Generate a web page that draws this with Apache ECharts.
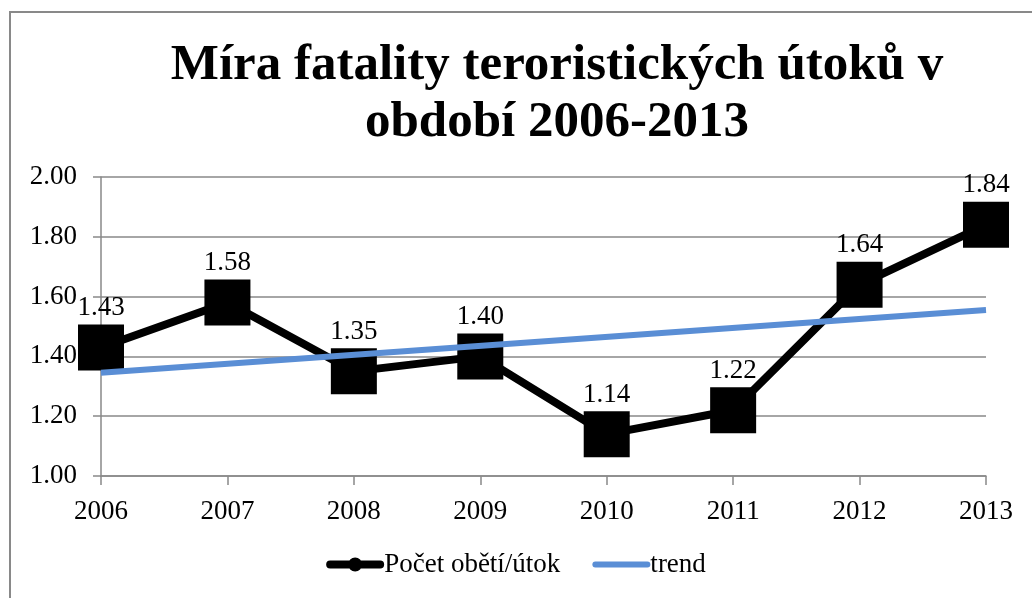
<!DOCTYPE html>
<html>
<head>
<meta charset="utf-8">
<script src="https://cdn.jsdelivr.net/npm/echarts@6/dist/echarts.min.js"></script>
<style>
  html, body { margin: 0; padding: 0; background: #fff; }
  #chart { width: 1032px; height: 598px; }
</style>
</head>
<body>
<div id="chart"></div>
<script>
// data
const years = ['2006', '2007', '2008', '2009', '2010', '2011', '2012', '2013'];
const fatality = [1.43, 1.58, 1.35, 1.40, 1.14, 1.22, 1.64, 1.84];
const trendLine = [['2006', 1.345], ['2013', 1.555]];
const yTicks = [1.0, 1.2, 1.4, 1.6, 1.8, 2.0];

const serif = '"Liberation Serif", serif';
const gray = '#898989';

const chart = echarts.init(document.getElementById('chart'));

chart.setOption({
  animation: false,
  title: {
    text: 'Míra fatality teroristických útoků v\nobdobí 2006-2013',
    left: 552,
    top: 32,
    textAlign: 'center',
    textStyle: {
      fontFamily: serif,
      fontWeight: 'bold',
      fontSize: 51,
      lineHeight: 57,
      color: '#000',
    },
  },
  graphic: [
    {
      type: 'rect',
      shape: { x: 10, y: 12, width: 1040, height: 600 },
      style: { fill: 'none', stroke: gray, lineWidth: 2 },
      silent: true,
    },
  ],
  grid: {
    left: 101,
    right: 46,
    top: 177,
    bottom: 122,
  },
  legend: {
    bottom: 15,
    left: 'center',
    itemWidth: 58,
    itemHeight: 16,
    itemGap: 32,
    textStyle: { fontFamily: serif, fontSize: 27, color: '#000', padding: [0, 0, 0, -5] },
    data: [
      {
        name: 'Počet obětí/útok',
        icon: 'path://M4 4 H54 A4 4 0 0 1 54 12 H4 A4 4 0 0 1 4 4 Z M22 8 A7 7 0 1 1 36 8 A7 7 0 1 1 22 8 Z',
      },
      {
        name: 'trend',
        icon: 'path://M3 5 H55 A3 3 0 0 1 55 11 H3 A3 3 0 0 1 3 5 Z M0 0 M58 16',
      },
    ],
  },
  xAxis: {
    type: 'category',
    data: years,
    boundaryGap: false,
    axisLine: { lineStyle: { color: gray, width: 1.5 } },
    axisTick: { alignWithLabel: true, length: 9, lineStyle: { color: gray, width: 1.5 } },
    axisLabel: { fontFamily: serif, fontSize: 27, color: '#000', margin: 22 },
    splitLine: { show: false },
  },
  yAxis: {
    type: 'value',
    min: yTicks[0],
    max: yTicks[yTicks.length - 1],
    interval: 0.2,
    axisLine: { show: true, lineStyle: { color: gray, width: 1.5 } },
    axisTick: { show: true, length: 8, lineStyle: { color: gray, width: 1.5 } },
    axisLabel: {
      fontFamily: serif,
      fontSize: 27,
      color: '#000',
      margin: 24,
      formatter: (v) => v.toFixed(2),
    },
    splitLine: { lineStyle: { color: gray, width: 1.5 } },
  },
  series: [
    {
      name: 'trend',
      type: 'line',
      data: trendLine,
      symbol: 'none',
      color: '#5a8ed5',
      lineStyle: { color: '#5a8ed5', width: 6 },
      z: 3,
    },
    {
      name: 'Počet obětí/útok',
      type: 'line',
      data: fatality,
      symbol: 'rect',
      symbolSize: 46,
      color: '#000',
      lineStyle: { color: '#000', width: 8 },
      itemStyle: { color: '#000' },
      label: {
        show: true,
        position: 'top',
        distance: 3,
        fontFamily: serif,
        fontSize: 27,
        color: '#000',
        formatter: (p) => p.value.toFixed(2),
      },
      z: 2,
    },
  ],
});
</script>
</body>
</html>
